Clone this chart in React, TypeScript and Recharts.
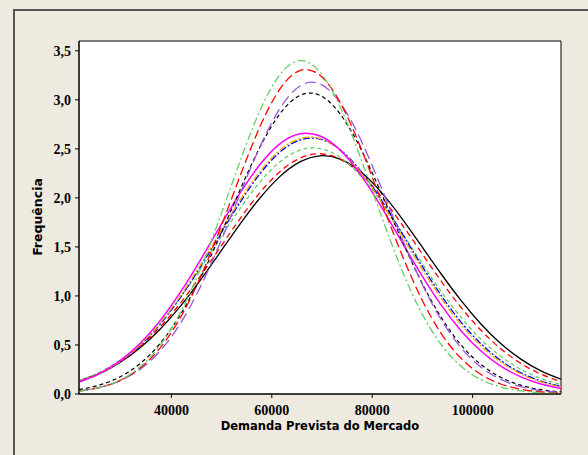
import { LineChart, Line, XAxis, YAxis, CartesianGrid, ReferenceArea } from 'recharts';

// demanda prevista (x) e frequência lida para cada curva
const xValues = [
  21600, 25600, 29600, 33600, 37600, 41600, 45600, 49600, 53600, 57600, 61600, 65600, 69600,
  73600, 77600, 81600, 85600, 89600, 93600, 97600, 101600, 105600, 109600, 113600, 117600,
];

const greenDashDot = [
  0.029, 0.065, 0.138, 0.269, 0.487, 0.812, 1.254, 1.79, 2.363, 2.885, 3.256, 3.4, 3.282,
  2.93, 2.419, 1.847, 1.304, 0.851, 0.514, 0.287, 0.148, 0.071, 0.031, 0.013, 0.005,
];
const redLongDash = [
  0.029, 0.065, 0.135, 0.258, 0.46, 0.762, 1.17, 1.669, 2.212, 2.722, 3.109, 3.299, 3.25,
  2.974, 2.527, 1.994, 1.461, 0.994, 0.628, 0.369, 0.201, 0.102, 0.048, 0.021, 0.008,
];
const purpleLongDash = [
  0.03, 0.065, 0.131, 0.246, 0.43, 0.704, 1.074, 1.528, 2.03, 2.516, 2.91, 3.141, 3.162,
  2.971, 2.605, 2.131, 1.627, 1.158, 0.77, 0.478, 0.276, 0.149, 0.075, 0.035, 0.015,
];
const blackShortDash = [
  0.044, 0.09, 0.17, 0.303, 0.506, 0.793, 1.164, 1.604, 2.073, 2.513, 2.856, 3.045, 3.045,
  2.856, 2.513, 2.073, 1.604, 1.164, 0.793, 0.506, 0.303, 0.17, 0.09, 0.044, 0.021,
];
const magentaSolid = [
  0.124, 0.208, 0.333, 0.508, 0.738, 1.023, 1.351, 1.701, 2.043, 2.338, 2.551, 2.653, 2.631,
  2.488, 2.242, 1.926, 1.578, 1.232, 0.917, 0.651, 0.441, 0.284, 0.175, 0.102, 0.057,
];
const orangeDashDot = [
  0.123, 0.205, 0.325, 0.493, 0.713, 0.986, 1.302, 1.64, 1.974, 2.267, 2.487, 2.605, 2.605,
  2.487, 2.267, 1.974, 1.64, 1.302, 0.986, 0.713, 0.493, 0.325, 0.205, 0.123, 0.071,
];
const blueDashDot = [
  0.122, 0.202, 0.321, 0.485, 0.702, 0.971, 1.282, 1.617, 1.948, 2.243, 2.466, 2.59, 2.599,
  2.492, 2.281, 1.996, 1.668, 1.331, 1.015, 0.739, 0.515, 0.342, 0.217, 0.132, 0.076,
];
const greenShortDash = [
  0.136, 0.22, 0.34, 0.503, 0.714, 0.971, 1.265, 1.578, 1.886, 2.159, 2.367, 2.487, 2.503,
  2.414, 2.229, 1.972, 1.672, 1.357, 1.056, 0.787, 0.561, 0.384, 0.252, 0.158, 0.095,
];
const redDash = [
  0.133, 0.212, 0.325, 0.478, 0.675, 0.914, 1.19, 1.486, 1.782, 2.051, 2.267, 2.405, 2.45,
  2.396, 2.249, 2.026, 1.753, 1.456, 1.161, 0.889, 0.653, 0.461, 0.312, 0.203, 0.127,
];
const blackSolid = [
  0.131, 0.207, 0.316, 0.463, 0.652, 0.883, 1.149, 1.437, 1.728, 1.996, 2.217, 2.367, 2.429,
  2.395, 2.271, 2.069, 1.812, 1.525, 1.234, 0.96, 0.717, 0.515, 0.356, 0.236, 0.151,
];

const xTicks = [40000, 60000, 80000, 100000];
const yTicks = [0, 0.5, 1, 1.5, 2, 2.5, 3, 3.5];

const series = [
  { key: 'blackSolid', values: blackSolid, color: '#000000', dash: undefined, width: 1.3 },
  { key: 'redDash', values: redDash, color: '#ff0000', dash: '6 4', width: 1.3 },
  { key: 'greenShortDash', values: greenShortDash, color: '#66cc66', dash: '4 3', width: 1.3 },
  { key: 'blueDashDot', values: blueDashDot, color: '#0000ff', dash: '7 2 2 2', width: 1.3 },
  { key: 'orangeDashDot', values: orangeDashDot, color: '#ffa500', dash: '7 2 2 2', width: 1.3 },
  { key: 'magentaSolid', values: magentaSolid, color: '#ff00ff', dash: undefined, width: 1.5 },
  { key: 'blackShortDash', values: blackShortDash, color: '#000000', dash: '4 3', width: 1.2 },
  { key: 'purpleLongDash', values: purpleLongDash, color: '#9955dd', dash: '11 5', width: 1.3 },
  { key: 'redLongDash', values: redLongDash, color: '#ff0000', dash: '9 4', width: 1.3 },
  { key: 'greenDashDot', values: greenDashDot, color: '#66cc66', dash: '8 3 2 3', width: 1.3 },
];

const rows = xValues.map((x, i) => {
  const row: Record<string, number> = { x };
  series.forEach((s) => {
    row[s.key] = s.values[i];
  });
  return row;
});

const tickFont = { fontFamily: 'Liberation Serif', fontWeight: 700, fontSize: 14, fill: '#000' };

export default function App() {
  return (
    <div style={{ position: 'absolute', left: 0, top: 0, width: 588, height: 455, background: '#eeeae0', overflow: 'hidden' }}>
      <div
        style={{
          position: 'absolute',
          left: 13,
          top: 9,
          width: 600,
          height: 480,
          borderLeft: '2px solid #555',
          borderTop: '2px solid #555',
        }}
      />
      <LineChart
        width={588}
        height={455}
        data={rows}
        margin={{ top: 41, right: 27, bottom: 0, left: 0 }}
        style={{ position: 'absolute', left: 0, top: 0 }}
      >
        <CartesianGrid horizontal={false} vertical={false} fill="#ffffff" />
        <XAxis
          dataKey="x"
          type="number"
          domain={[21600, 117600]}
          ticks={xTicks}
          allowDataOverflow
          height={61}
          tickSize={4}
          tickMargin={7}
          tick={tickFont}
          axisLine={{ stroke: '#000' }}
          tickLine={{ stroke: '#000' }}
        />
        <YAxis
          type="number"
          domain={[0, 3.6]}
          ticks={yTicks}
          allowDataOverflow
          width={79}
          tickSize={4}
          tickMargin={4}
          tick={tickFont}
          tickFormatter={(v: number) => v.toFixed(1).replace('.', ',')}
          axisLine={{ stroke: '#000' }}
          tickLine={{ stroke: '#000' }}
        />
        {series.map((s) => (
          <Line
            key={s.key}
            dataKey={s.key}
            type="natural"
            stroke={s.color}
            strokeWidth={s.width}
            strokeDasharray={s.dash}
            dot={false}
            activeDot={false}
            isAnimationActive={false}
          />
        ))}
        <ReferenceArea x1={21600} x2={117600} y1={0} y2={3.6} fill="none" stroke="#000" strokeWidth={1} />
      </LineChart>
      <div
        style={{
          position: 'absolute',
          left: 220,
          width: 200,
          top: 419,
          textAlign: 'center',
          fontFamily: 'DejaVu Sans',
          fontWeight: 700,
          fontSize: 11.5,
          whiteSpace: 'nowrap',
        }}
      >
        Demanda Prevista do Mercado
      </div>
      <div
        style={{
          position: 'absolute',
          left: 37,
          top: 217,
          transform: 'translate(-50%, -50%) rotate(-90deg)',
          fontFamily: 'DejaVu Sans',
          fontWeight: 700,
          fontSize: 12.5,
          whiteSpace: 'nowrap',
        }}
      >
        Frequência
      </div>
    </div>
  );
}
